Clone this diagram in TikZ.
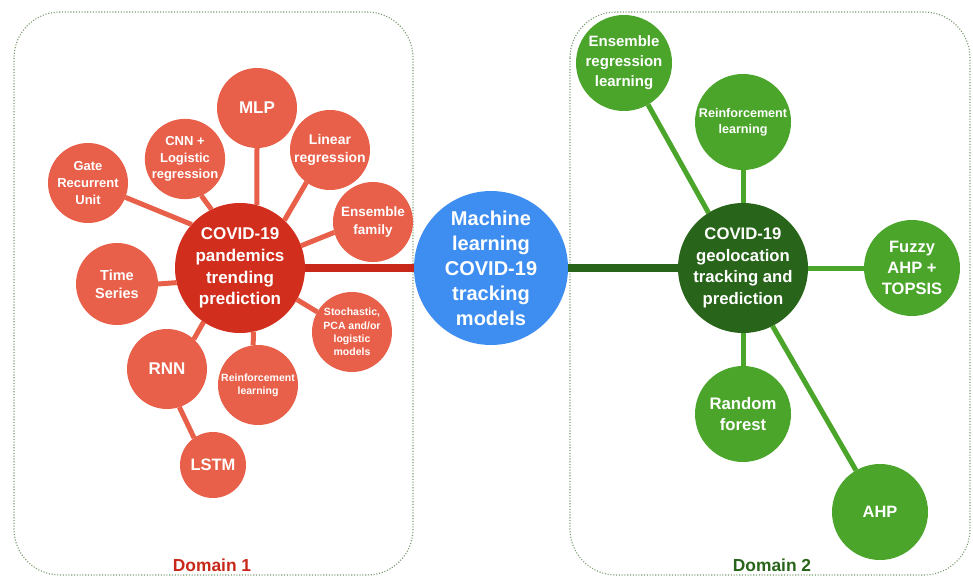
\documentclass[tikz,border=0pt]{standalone}
\usepackage{fontspec}
\setmainfont{Liberation Sans}
\definecolor{satred}{HTML}{E8604A}
\definecolor{ctrred}{HTML}{D12E1E}
\definecolor{barred}{HTML}{C8281A}
\definecolor{mlblue}{HTML}{3D8EF0}
\definecolor{satgreen}{HTML}{4AA52A}
\definecolor{ctrgreen}{HTML}{286419}
\definecolor{boxgreen}{HTML}{7A9A70}
\newcommand{\fsz}[2]{\bfseries\fontsize{#1}{#2}\selectfont}
\tikzset{
  bub/.style={circle, inner sep=0pt, outer sep=0pt, align=center, text=white},
  redsat/.style={bub, fill=satred, minimum size=80pt},
  greensat/.style={bub, fill=satgreen, minimum size=96pt},
  rspoke/.style={draw=satred, line width=5pt},
  gspoke/.style={draw=satgreen, line width=5pt},
  rbar/.style={draw=barred, line width=8.5pt},
  gbar/.style={draw=ctrgreen, line width=8.5pt},
  domainbox/.style={draw=boxgreen, line width=1.1pt, dash pattern=on 1.1pt off 1.7pt, rounded corners=46pt},
  domainlabel/.style={inner sep=0pt, font=\fsz{17.4}{20}},
}
\begin{document}
\begin{tikzpicture}[x=1pt,y=-1pt]
\useasboundingbox (0,0) rectangle (973,577);
% domain boxes
\draw[domainbox] (14,12) rectangle (413,575);
\draw[domainbox] (570,12) rectangle (970,575);
% centre nodes
\node[bub, fill=mlblue, minimum size=154pt, font=\fsz{20}{25}] (ml) at (491,268) {Machine\\learning\\COVID-19\\tracking\\models};
\node[bub, fill=ctrred, minimum size=130pt, font=\fsz{17}{21.7}] (ctr) at (240,268) {COVID-19\\pandemics\\trending\\prediction};
\node[bub, fill=ctrgreen, minimum size=130pt, font=\fsz{16.7}{21.7}] (geo) at (743,268) {COVID-19\\geolocation\\tracking and\\prediction};
% red satellites
\node[redsat, font=\fsz{17}{20}] (mlp) at (257,108) {MLP};
\node[redsat, font=\fsz{14}{18.3}] (lr) at (330,150) {Linear\\regression};
\node[redsat, font=\fsz{13.5}{17.7}] (ef) at (373,222) {Ensemble\\family};
\node[redsat, font=\fsz{13}{16.7}] (cnn) at (185,159) {CNN +\\Logistic\\regression};
\node[redsat, font=\fsz{13}{16.7}] (gru) at (88,183) {Gate\\Recurrent\\Unit};
\node[redsat, minimum size=82pt, font=\fsz{14.5}{18}] (ts) at (117,284) {Time\\Series};
\node[redsat, font=\fsz{17}{20}] (rnn) at (167,369) {RNN};
\node[redsat, minimum size=66pt, font=\fsz{16.5}{20}] (lstm) at (213,465) {LSTM};
\node[redsat, font=\fsz{10.5}{13.3}] (rlr) at (258,385) {Reinforcement\\learning};
\node[redsat, font=\fsz{10.5}{13.3}] (sto) at (352,332) {Stochastic,\\PCA and/or\\logistic\\models};
% green satellites
\node[greensat, font=\fsz{15}{20}] (erl) at (624,63) {Ensemble\\regression\\learning};
\node[greensat, font=\fsz{12.6}{15.7}] (rlg) at (743,122) {Reinforcement\\learning};
\node[greensat, font=\fsz{16.5}{20.7}] (fz) at (912,268) {Fuzzy\\AHP +\\TOPSIS};
\node[greensat, font=\fsz{16.7}{21}] (rf) at (743,414) {Random\\forest};
\node[greensat, font=\fsz{16.4}{20}] (ahp) at (880,512) {AHP};
% bars
\draw[rbar] (ctr.0) -- (ml.180);
\draw[gbar] (ml.0) -- (geo.180);
% red spokes
\draw[rspoke] (gru.-21) -- (ctr.138);
\draw[rspoke] (cnn.-66) -- (ctr.116);
\draw[rspoke] (mlp.-90) -- (ctr.75);
\draw[rspoke] (lr.-126) -- (ctr.47);
\draw[rspoke] (ef.-165) -- (ctr.20);
\draw[rspoke] (ts.0) -- (ctr.193);
\draw[rspoke] (rnn.48) -- (ctr.-124);
\draw[rspoke] (rnn.-72) -- (lstm.125);
\draw[rspoke] (rlr.97) -- (ctr.-78);
\draw[rspoke] (sto.150) -- (ctr.-29);
% green spokes
\draw[gspoke] (erl.-60) -- (geo.122);
\draw[gspoke] (rlg.-90) -- (geo.90);
\draw[gspoke] (fz.180) -- (geo.0);
\draw[gspoke] (rf.90) -- (geo.-90);
\draw[gspoke] (ahp.120) -- (geo.-63);
% domain labels
\node[domainlabel, text=barred] (d1) at (212,565) {Domain 1};
\node[domainlabel, text=ctrgreen] (d2) at (772,565) {Domain 2};
\end{tikzpicture}
\end{document}
